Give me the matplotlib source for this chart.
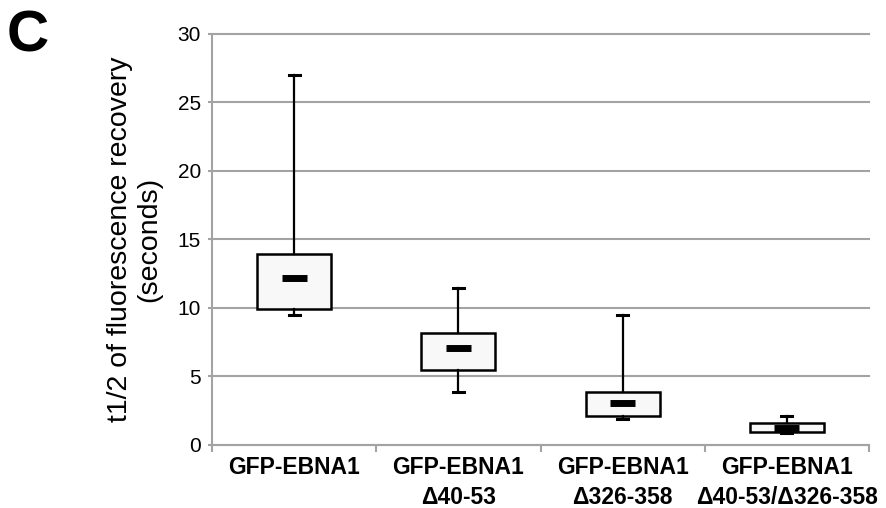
import matplotlib
matplotlib.use("Agg")
import matplotlib.pyplot as plt
import numpy as np

plt.rcParams['font.family'] = ['Liberation Sans', 'DejaVu Sans']

categories = ["GFP-EBNA1", "GFP-EBNA1\nΔ40-53", "GFP-EBNA1\nΔ326-358", "GFP-EBNA1\nΔ40-53/Δ326-358"]
whisker_low = [9.5, 3.9, 1.9, 0.85]
q1 = [9.95, 5.45, 2.1, 0.93]
median = [12.2, 7.05, 3.05, 1.26]
q3 = [13.9, 8.2, 3.85, 1.6]
whisker_high = [27.0, 11.45, 9.5, 2.15]
y_ticks = [0, 5, 10, 15, 20, 25, 30]
y_label = "t1/2 of fluorescence recovery\n(seconds)"
panel_letter = "C"

grey = "#a3a3a3"

fig = plt.figure(figsize=(8.86, 5.08), dpi=100)
ax = fig.add_axes([212/886, (508-445)/508, 657/886, (445-33.5)/508])

positions = np.arange(1, len(categories) + 1)
stats = []
for i in range(len(categories)):
    stats.append(dict(med=median[i], q1=q1[i], q3=q3[i],
                      whislo=whisker_low[i], whishi=whisker_high[i], fliers=[]))

ax.bxp(stats, positions=positions, widths=0.45, showfliers=False,
       patch_artist=True, capwidths=0.067,
       boxprops=dict(facecolor="#f8f8f8", edgecolor="black", linewidth=1.8),
       whiskerprops=dict(color="black", linewidth=1.6),
       capprops=dict(color="black", linewidth=2.2),
       medianprops=dict(linewidth=0))
ax.hlines(median, positions - 0.076, positions + 0.076, colors="black",
          linewidth=5, capstyle="butt", zorder=5)

ax.set_xlim(0.5, len(categories) + 0.5)
ax.set_ylim(0, 30)
ax.set_yticks(y_ticks)
ax.set_yticklabels([str(t) for t in y_ticks], fontsize=15)
ax.yaxis.grid(True, color=grey, linewidth=1.5)
for gl in ax.get_ygridlines():
    gl.set_clip_on(False)
ax.set_axisbelow(True)

ax.set_xticks(np.arange(0.5, len(categories) + 1, 1.0))
ax.set_xticklabels([])
ax.set_xticks(positions, categories, minor=True)
for lab in ax.get_xticklabels(minor=True):
    lab.set_fontweight("bold")
    lab.set_fontsize(16.5)
    lab.set_linespacing(1.4)
ax.tick_params(axis="x", which="major", length=5, width=1.5, color=grey, direction="out")
ax.tick_params(axis="x", which="minor", length=0, pad=7.8)
ax.tick_params(axis="y", which="major", length=3, width=1.5, color=grey, direction="out", pad=5)

for s in ["top", "right"]:
    ax.spines[s].set_visible(False)
for s in ["left", "bottom"]:
    ax.spines[s].set_color(grey)
    ax.spines[s].set_linewidth(1.5)

ax.set_ylabel(y_label, fontsize=20.5, linespacing=1.15)
ax.yaxis.set_label_coords(-0.076, 0.5)

fig.text(7/886, 1 - 51.5/508, panel_letter, fontsize=42, fontweight="bold",
         ha="left", va="baseline")

fig.savefig("out.png", dpi=100)
